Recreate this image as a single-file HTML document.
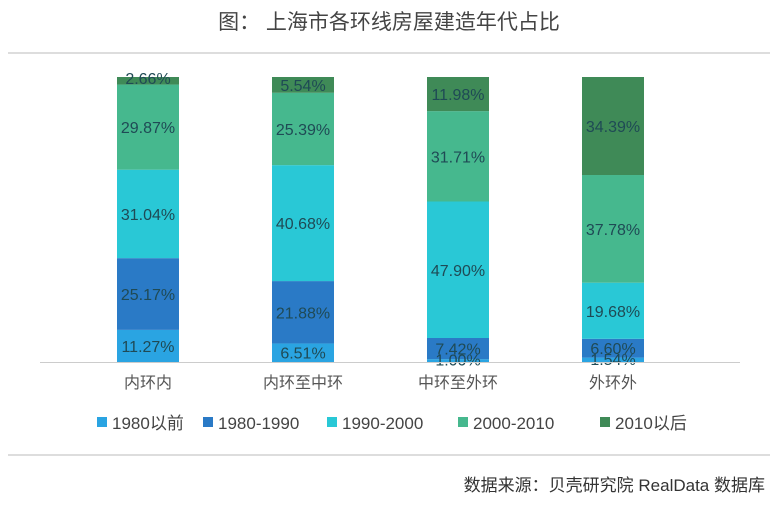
<!DOCTYPE html>
<html><head><meta charset="utf-8"><style>
body{margin:0;background:#fff;width:777px;height:500px;overflow:hidden}
svg text{font-family:"Liberation Sans","Noto Sans CJK SC",sans-serif}
</style></head><body>
<svg id="s" width="777" height="500" xmlns="http://www.w3.org/2000/svg">
<text x="389" y="29" font-size="21" fill="#444" text-anchor="middle">图：  上海市各环线房屋建造年代占比</text>
<line x1="8" y1="53" x2="770" y2="53" stroke="#bbb"/>
<line x1="8" y1="455" x2="770" y2="455" stroke="#bbb"/>
<text x="765" y="491" font-size="17" fill="#333" text-anchor="end">数据来源：贝壳研究院 RealData 数据库</text>
</svg>
<script>
var s=document.getElementById('s'),NS='http://www.w3.org/2000/svg';
function el(t,a,txt){var e=document.createElementNS(NS,t);for(var k in a)e.setAttribute(k,a[k]);if(txt)e.textContent=txt;s.appendChild(e);return e;}
var cols=['#2aa4e2','#2a7ac6','#29c8d6','#46b88e','#3f8a57'];
var data=[[11.27,25.17,31.04,29.87,2.66],[6.51,21.88,40.68,25.39,5.54],[1.00,7.42,47.90,31.71,11.98],[1.54,6.60,19.68,37.78,34.39]];
var cats=['内环内','内环至中环','中环至外环','外环外'];
var xs=[117,272,427,582];
data.forEach(function(d,i){
 var tot=d.reduce(function(a,b){return a+b},0),y=362;
 d.forEach(function(v,j){var h=v/tot*285;y-=h;el('rect',{x:xs[i],y:y,width:62,height:h,fill:cols[j]});});
 y=362;
 d.forEach(function(v,j){var h=v/tot*285;y-=h;var ty=y+h/2+6;if(h<15)ty=(j==0?y+h/2+5:y+h/2+3);el('text',{x:xs[i]+31,y:ty,'font-size':16,fill:'#1f4a55','text-anchor':'middle'},v.toFixed(2)+'%');});
 el('text',{x:xs[i]+31,y:388,'font-size':16,fill:'#555','text-anchor':'middle'},cats[i]);
});
el('line',{x1:40,y1:362.5,x2:740,y2:362.5,stroke:'#ccc'});
var lg=[['1980以前',97],['1980-1990',203],['1990-2000',327],['2000-2010',458],['2010以后',600]];
lg.forEach(function(l,i){el('rect',{x:l[1],y:417,width:10,height:10,fill:cols[i]});el('text',{x:l[1]+15,y:429,'font-size':17,fill:'#444'},l[0]);});
</script>
</body></html>
